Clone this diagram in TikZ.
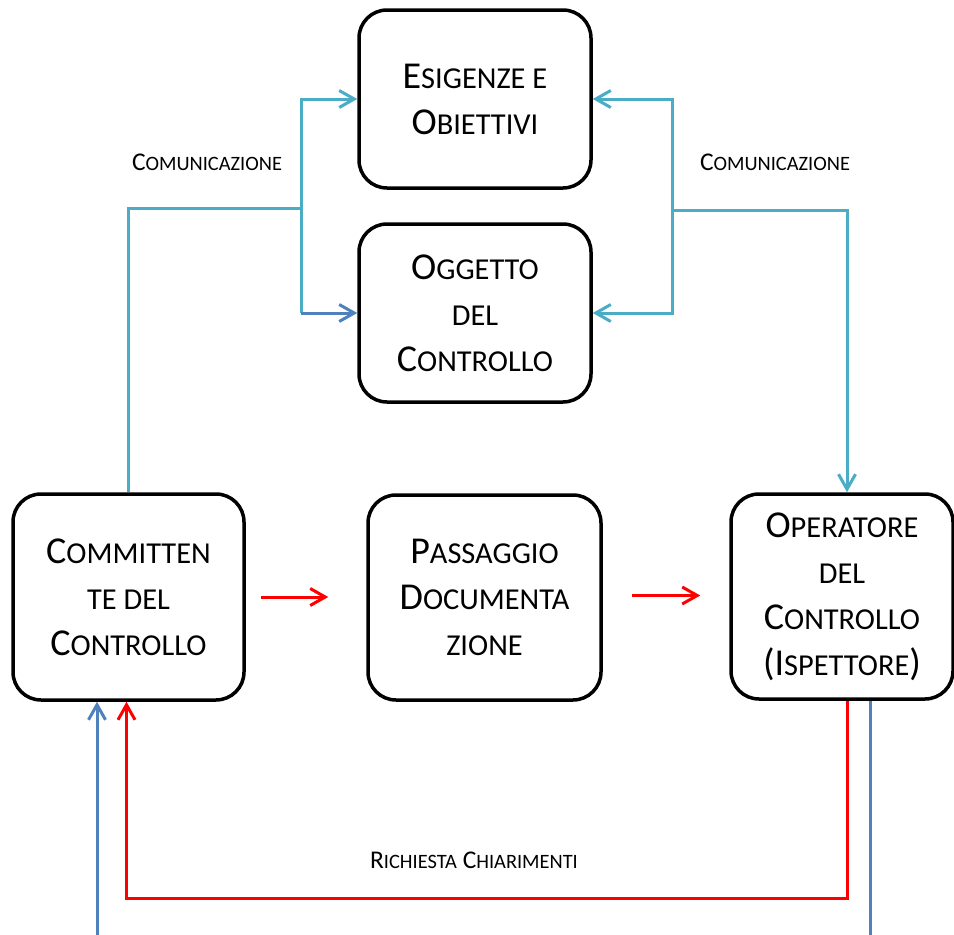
\documentclass[tikz,border=0pt]{standalone}
\usepackage{fontspec}
\setmainfont{Carlito}
\usetikzlibrary{arrows.meta}
\definecolor{commcyan}{HTML}{4BACC6}
\definecolor{commblue}{HTML}{4F81BD}
\definecolor{flowred}{HTML}{FF0000}
% synthetic small capitals: lowercase part set as smaller uppercase
\makeatletter
\newcommand\lc[1]{{\fontsize{\fpeval{0.8*\f@size}}{\f@baselineskip}\selectfont #1}}
\makeatother

\begin{document}
\begin{tikzpicture}[x=1pt,y=-1pt,
  box/.style={draw=black, line width=3.5pt, rounded corners=28pt, align=center,
    inner sep=0pt, text=black, font=\fontsize{38}{46}\selectfont},
  lbltext/.style={font=\fontsize{25.5}{30}\selectfont, inner sep=0pt, anchor=base, text=black},
  conn/.style={line width=3pt},
  arr/.style={conn, -{Straight Barb[length=15pt,width=17pt]}}]

\path[use as bounding box] (0,0) rectangle (954,935);

% boxes
\node[box, minimum width=232pt, minimum height=178pt] (esig) at (475,99)
  {E\lc{SIGENZE E}\\O\lc{BIETTIVI}};
\node[box, minimum width=232pt, minimum height=178pt] (ogg) at (475,313)
  {O\lc{GGETTO}\\\lc{DEL}\\C\lc{ONTROLLO}};
\node[box, minimum width=231pt, minimum height=206pt] (comm) at (128.5,597)
  {C\lc{OMMITTEN}\\\lc{TE DEL}\\C\lc{ONTROLLO}};
\node[box, minimum width=233pt, minimum height=205pt] (pass) at (484.5,597.5)
  {P\lc{ASSAGGIO}\\D\lc{OCUMENTA}\\\lc{ZIONE}};
\node[box, minimum width=222pt, minimum height=205pt] (oper) at (842,596.5)
  {O\lc{PERATORE}\\\lc{DEL}\\C\lc{ONTROLLO}\\(I\lc{SPETTORE})};

% communication from the client
\coordinate (ljoin) at (301,208);
\coordinate (lbot) at (ljoin |- ogg.west);
\draw[conn, commcyan] (comm.north) |- (ljoin);
\draw[arr, commcyan] (ljoin) |- (esig.west);
\draw[conn, commcyan] (ljoin) -- (lbot);
\draw[arr, commblue] (lbot) -- (ogg.west);

% communication towards the inspector
\coordinate (rjoin) at (672,210);
\draw[arr, commcyan] (rjoin) |- (esig.east);
\draw[arr, commcyan] (rjoin) |- (ogg.east);
\draw[arr, commcyan] (rjoin) -| ([xshift=5pt]oper.north);

% documentation flow
\draw[arr, flowred, shorten <=15pt, shorten >=38pt] (comm.east) -- (comm.east -| pass.west);
\draw[arr, flowred, shorten <=29pt, shorten >=29pt] ([yshift=2pt]pass.east) -- ([yshift=2pt]pass.east -| oper.west);

% request for clarification
\coordinate (rq) at ([xshift=5pt]oper.south);
\draw[arr, flowred] (rq) -- ++(0,198) -| ([xshift=-2pt]comm.south);

% blue lines at the bottom
\coordinate (bl) at (97,935);
\draw[arr, commblue] (bl) -- (bl |- comm.south);
\coordinate (br) at ([xshift=28pt]oper.south);
\coordinate (brend) at (br |- bl);
\draw[conn, commblue] (br) -- (brend);

% labels
\node[lbltext] (lcom) at (207,170) {C\lc{OMUNICAZIONE}};
\node[lbltext] (rcom) at (775,170) {C\lc{OMUNICAZIONE}};
\node[lbltext] (rich) at (474,868) {R\lc{ICHIESTA} C\lc{HIARIMENTI}};
\end{tikzpicture}
\end{document}
